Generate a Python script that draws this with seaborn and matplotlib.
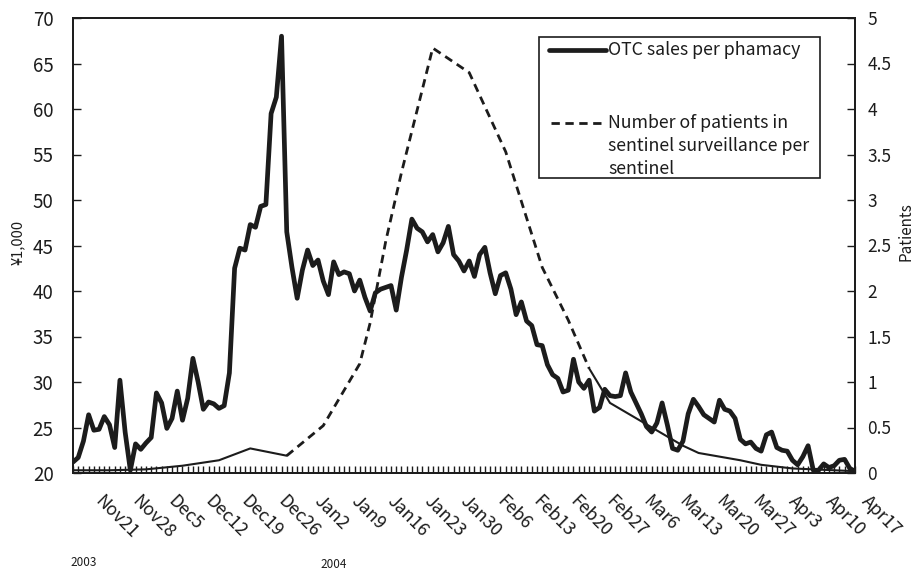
import matplotlib
matplotlib.use("Agg")
import matplotlib.pyplot as plt
import seaborn as sns
from matplotlib.lines import Line2D
from matplotlib.patches import Rectangle
from matplotlib.ticker import MultipleLocator, FixedLocator, FuncFormatter
from matplotlib.transforms import ScaledTranslation

# ---------------- data ----------------
# Daily OTC sales per pharmacy (¥1,000), day 0 = Nov 18, 2003
otc_sales = [
    21.2, 21.7, 23.5, 26.4, 24.7, 24.8, 26.2, 25.3, 22.8, 30.2,
    24.5, 20.3, 23.2, 22.6, 23.3, 23.9, 28.8, 27.7, 24.9, 26.0,
    29.0, 25.8, 28.2, 32.6, 30.0, 27.0, 27.8, 27.6, 27.1, 27.4,
    31.0, 42.5, 44.7, 44.5, 47.3, 47.0, 49.3, 49.5, 59.5, 61.3,
    68.0, 46.5, 42.6, 39.2, 42.3, 44.5, 42.8, 43.4, 41.1, 39.6,
    43.2, 41.8, 42.1, 41.9, 40.0, 41.2, 39.3, 37.8, 39.8, 40.2,
    40.4, 40.6, 37.9, 41.5, 44.5, 47.9, 46.9, 46.5, 45.4, 46.2,
    44.3, 45.3, 47.1, 44.0, 43.3, 42.2, 43.3, 41.6, 44.0, 44.8,
    42.0, 39.7, 41.7, 42.0, 40.2, 37.4, 38.8, 36.7, 36.2, 34.1,
    34.0, 31.9, 30.8, 30.4, 28.9, 29.1, 32.5, 30.0, 29.3, 30.2,
    26.8, 27.2, 29.2, 28.5, 28.4, 28.5, 31.0, 28.9, 27.7, 26.5,
    25.1, 24.5, 25.5, 27.7, 25.3, 22.7, 22.5, 23.5, 26.5, 28.1,
    27.3, 26.4, 26.0, 25.6, 28.0, 27.0, 26.8, 26.0, 23.7, 23.2,
    23.4, 22.7, 22.4, 24.2, 24.5, 22.8, 22.5, 22.4, 21.4, 20.9,
    21.8, 23.0, 20.3, 20.3, 21.0, 20.6, 20.8, 21.4, 21.5, 20.5,
    20.2,
]
sales_days = list(range(len(otc_sales)))

# Sentinel surveillance: patients per sentinel
patient_days = [0, 7, 14, 21, 28, 34, 41, 48, 55, 57, 60, 63, 69, 76, 83,
                90, 95, 99, 103, 117, 120, 128, 132, 138, 150]
patients = [0.03, 0.03, 0.04, 0.08, 0.14, 0.27, 0.19, 0.52, 1.2, 1.65, 2.55,
            3.3, 4.67, 4.4, 3.53, 2.26, 1.68, 1.15, 0.77, 0.30, 0.22, 0.14,
            0.09, 0.05, 0.02]

week_labels = ["Nov21", "Nov28", "Dec5", "Dec12", "Dec19", "Dec26", "Jan2",
               "Jan9", "Jan16", "Jan23", "Jan30", "Feb6", "Feb13", "Feb20",
               "Feb27", "Mar6", "Mar13", "Mar20", "Mar27", "Apr3", "Apr10",
               "Apr17"]
week_label_days = list(range(3, 151, 7))

legend_labels = ["OTC sales per phamacy",
                 "Number of patients in\nsentinel surveillance per\nsentinel"]

# ---------------- style ----------------
sns.set_theme(style="white")
plt.rcParams['font.family'] = ['Noto Sans CJK JP', 'DejaVu Sans']
ink = "#1c1c1c"
dash = (0, (3.0, 2.0))

W, H = 921, 572
fig = plt.figure(figsize=(W / 100, H / 100), dpi=100)
L, R, T, B = 73, 855, 18, 473
ax = fig.add_axes([L / W, 1 - B / H, (R - L) / W, (B - T) / H])
ax2 = ax.twinx()

sns.lineplot(x=sales_days, y=otc_sales, ax=ax, color=ink, linewidth=3.4,
             legend=False, solid_joinstyle="round", solid_capstyle="round")

# patient line: flat stretches render as a thin continuous line (as in the
# original), the steep epidemic stretch as a dashed line
i1, i2 = 6, 17
sns.lineplot(x=patient_days[:i1 + 1], y=patients[:i1 + 1], ax=ax2, color=ink,
             linewidth=1.5, legend=False)
sns.lineplot(x=patient_days[i1:i2 + 1], y=patients[i1:i2 + 1], ax=ax2,
             color=ink, linewidth=2.0, linestyle=dash, legend=False)
sns.lineplot(x=patient_days[i2:], y=patients[i2:], ax=ax2, color=ink,
             linewidth=1.5, legend=False)

ax.set_xlim(0, 150)
ax.set_ylim(20, 70)
ax2.set_ylim(0, 5)
ax.set_xlabel("")
ax.set_ylabel("")
ax2.set_ylabel("")

ax.yaxis.set_major_locator(MultipleLocator(5))
ax2.yaxis.set_major_locator(MultipleLocator(0.5))
ax2.yaxis.set_major_formatter(FuncFormatter(lambda v, p: f"{v:g}"))

ax.xaxis.set_major_locator(FixedLocator(week_label_days))
ax.set_xticklabels(week_labels)
ax.xaxis.set_minor_locator(MultipleLocator(1))

ax.tick_params(axis="y", left=True, direction="in", length=6, width=1,
               color=ink, labelsize=13.5, pad=14, labelcolor=ink)
ax2.tick_params(axis="y", right=True, direction="in", length=6, width=1,
                color=ink, labelsize=12.5, pad=9, labelcolor=ink)
ax.tick_params(axis="x", which="both", bottom=True, direction="in", length=5,
               width=1, color=ink, labelsize=12.8, pad=14, labelcolor=ink)

off = ScaledTranslation(16 / 100, 0, fig.dpi_scale_trans)
for lbl in ax.get_xticklabels():
    lbl.set_rotation(-45)
    lbl.set_ha("left")
    lbl.set_va("top")
    lbl.set_rotation_mode("anchor")
    lbl.set_transform(lbl.get_transform() + off)

for a in (ax, ax2):
    for s in a.spines.values():
        s.set_color(ink)
        s.set_linewidth(1.3)
        s.set_visible(True)

fig.text(18 / W, 1 - 242 / H, "¥1,000", rotation=90, ha="center", va="center",
         fontsize=10.5, color=ink)
fig.text(906 / W, 1 - 232 / H, "Patients", rotation=90, ha="center",
         va="center", fontsize=11, color=ink)
fig.text(70 / W, 1 - 562 / H, "2003", ha="left", va="center", fontsize=8.5,
         color=ink)
fig.text(320 / W, 1 - 565 / H, "2004", ha="left", va="center", fontsize=8.5,
         color=ink)

# ---------------- legend (drawn as a boxed key) ----------------
def fx(px):
    return px / W

def fy(py):
    return 1 - py / H

fig.add_artist(Rectangle((fx(539), fy(178)), fx(820) - fx(539),
                         fy(37) - fy(178), transform=fig.transFigure,
                         facecolor="white", edgecolor=ink, linewidth=1.2,
                         zorder=10))
fig.add_artist(Line2D([fx(549), fx(606)], [fy(50), fy(50)],
                      transform=fig.transFigure, color=ink, lw=3.4,
                      zorder=11))
fig.add_artist(Line2D([fx(551), fx(606)], [fy(123), fy(123)],
                      transform=fig.transFigure, color=ink, lw=2.0,
                      linestyle=dash, zorder=11))
fig.text(fx(608), fy(50), legend_labels[0], ha="left", va="center",
         fontsize=12.8, color=ink, zorder=12)
fig.text(fx(608), fy(146), legend_labels[1], ha="left", va="center",
         fontsize=12.8, color=ink, linespacing=1.33, zorder=12)

fig.savefig("out.png", dpi=100)
